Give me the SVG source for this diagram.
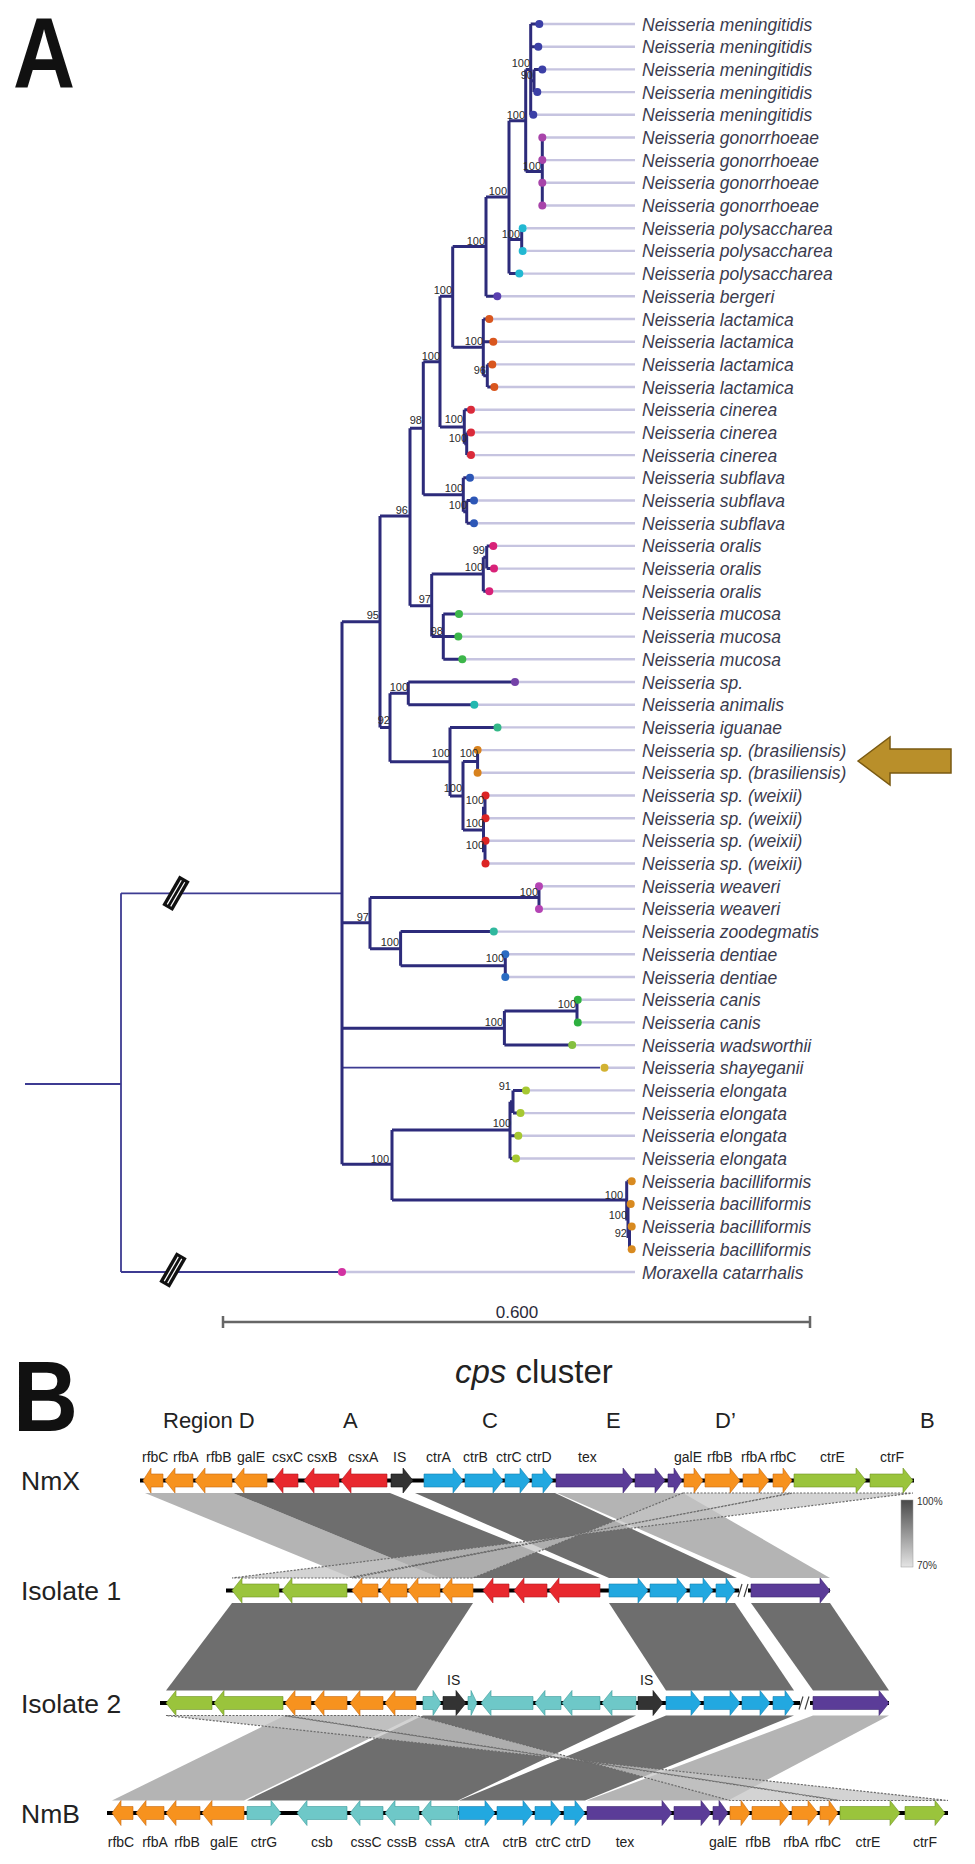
<svg xmlns="http://www.w3.org/2000/svg" width="975" height="1864" viewBox="0 0 975 1864">
<defs>
<style>
.br{fill:none;stroke:#2d2b7b;stroke-width:3;stroke-linejoin:miter}
.thin{fill:none;stroke:#3d3b92;stroke-width:1.8}
.ld{fill:none;stroke:#c6c4e0;stroke-width:2.4}
.tx{font-family:"Liberation Sans",Arial,sans-serif;font-style:italic;font-size:17.5px;fill:#3b3b4e}
.bs{font-family:"Liberation Sans",Arial,sans-serif;font-size:11px;fill:#2a2a2a;text-anchor:end}
.pl{font-family:"Liberation Sans",Arial,sans-serif;font-weight:bold;font-size:100px;fill:#111}
.gl{font-family:"Liberation Sans",Arial,sans-serif;font-size:14px;fill:#222}
.rl{font-family:"Liberation Sans",Arial,sans-serif;font-size:22px;fill:#222}
.tl{font-family:"Liberation Sans",Arial,sans-serif;font-size:26.5px;fill:#222}
.or{fill:#f7921e;stroke:#c86a10;stroke-width:0.6}
.rd{fill:#e8282e;stroke:#b01820;stroke-width:0.6}
.bk{fill:#333;stroke:#111;stroke-width:0.6}
.bl{fill:#22a8e0;stroke:#1580b0;stroke-width:0.6}
.pu{fill:#5b3c98;stroke:#3e2670;stroke-width:0.6}
.gr{fill:#9ac43c;stroke:#6e9422;stroke-width:0.6}
.te{fill:#6ec8c8;stroke:#3a9a9a;stroke-width:0.6}
.bb{stroke:#000;stroke-width:4}
.dk{fill:#6e6e6e}
.lt{fill:#b4b4b4}
.hx{fill:#c4c4c4;fill-opacity:0.75;stroke:#6a6a6a;stroke-width:1.2;stroke-dasharray:2 1.5}
</style>
<linearGradient id="cb" x1="0" y1="0" x2="0" y2="1">
<stop offset="0" stop-color="#4a4a4a"/>
<stop offset="1" stop-color="#e4e4e4"/>
</linearGradient>
<g id="brk">
<rect x="-6" y="-17" width="12" height="34" fill="#111"/>
<line x1="-2" y1="-14" x2="-2" y2="14" stroke="#fff" stroke-width="1.2"/>
<line x1="2" y1="-14" x2="2" y2="14" stroke="#fff" stroke-width="1.2"/>
</g>
</defs>
<rect width="975" height="1864" fill="#fff"/>

<text class="pl" transform="translate(13,88) scale(0.86,1)">A</text>
<text class="pl" transform="translate(13,1431) scale(0.9,1)">B</text>

<g id="leaders">
<path class="ld" d="M543,24H635M542,46.7H635M546,69.4H635M541,92.1H635M537,114.8H635M546,137.5H635M546,160.1H635M546,182.8H635M546,205.5H635M527,228.2H635M527,250.9H635M523,273.6H635M501,296.3H635M493,319H635M497,341.7H635M496,364.4H635M498,387H635M475,409.7H635M475,432.4H635M475,455.1H635M474,477.8H635M478,500.5H635M478,523.2H635M497,545.9H635M498,568.6H635M493,591.3H635M463,613.9H635M462,636.6H635M466,659.3H635M519,682H635M478,704.7H635M501,727.4H635M481,750.1H635M481,772.8H635M489,795.5H635M489,818.2H635M489,840.8H635M489,863.5H635M543,886.2H635M543,908.9H635M497,931.6H635M509,954.3H635M509,977H635M582,999.7H635M582,1022.4H635M576,1045.1H635M608,1067.7H635M530,1090.4H635M524,1113.1H635M522,1135.8H635M520,1158.5H635M346,1272H635"/>
</g>

<g id="tree">
<path class="thin" d="M25,1084H121M121,893.3V1272M121,893.3H342M121,1272H338M342,1067.7H600"/>
<path class="br" d="M342,621.7V1164.3
M342,621.7H380M380,516V727.4
M380,516H410M410,428.3V605.7
M410,428.3H423.3M423.3,361.7V494.7
M423.3,361.7H440M440,296.3V427
M440,296.3H452.7M452.7,246.6V347.3
M452.7,246.6H486M486,197V296.3M486,296.3H497.3
M486,197H509M509,120.8V273.6M509,273.6H519.3
M509,239.5H521.7M521.7,228.2V250.9M521.7,228.2H522.7M521.7,250.9H522.7
M509,120.8H525.7M525.7,69.4V171.5
M525.7,171.5H542.3M542.3,137.5V205.5
M525.7,69.4H530.7M530.7,24V114.8M530.7,24H539.3M530.7,46.7H538.3M530.7,80.7H534M534,69.4V92.1M534,69.4H542.3M534,92.1H537.3M530.7,114.8H533.3
M452.7,347.3H483.3M483.3,319V375.7M483.3,319H489.3M483.3,341.7H493.3M483.3,375.7H487.3M487.3,364.4V387M487.3,364.4H492.3M487.3,387H494.3
M440,427H464.3M464.3,409.7V443.7M464.3,409.7H471M464.3,443.7H466.7M466.7,432.4V455.1M466.7,432.4H471M466.7,455.1H471
M423.3,494.7H463.3M463.3,477.8V511.8M463.3,477.8H470M463.3,511.8H466.7M466.7,500.5V523.2M466.7,500.5H474M466.7,523.2H474
M410,605.7H431.7M431.7,574V636.6
M431.7,574H483.3M483.3,557.2V591.3M483.3,591.3H489.3M483.3,557.2H486.7M486.7,545.9V568.6M486.7,545.9H493.3M486.7,568.6H494
M431.7,636.6H443.3M443.3,613.9V659.3M443.3,613.9H459M443.3,636.6H458.3M443.3,659.3H462.3
M380,727.4H390M390,693.3V761.7
M390,693.3H408.3M408.3,682V704.7M408.3,682H515M408.3,704.7H474.3
M390,761.7H450M450,727.4V796M450,727.4H497.5
M450,796H463M463,761.5V829.9
M463,761.5H477.6M477.6,750.1V772.8
M463,829.9H483.5M483.5,806.8V852.2M483.5,806.8H485M485,795.5V818.2M485,795.5H485.5M485,818.2H485.5M483.5,852.2H485M485,840.8V863.5M485,840.8H485.5M485,863.5H485.5
M342,922.7H370M370,897.5V948.8
M370,897.5H539M539,886.2V908.9
M370,948.8H400.6M400.6,931.6V965.7M400.6,931.6H493.8
M400.6,965.7H505.3M505.3,954.3V977
M342,1028.3H504.4M504.4,1011V1045.1M504.4,1045.1H572.2
M504.4,1011H577M577,999.7V1022.4M577,999.7H577.8M577,1022.4H577.8
M342,1164.3H392M392,1130V1200
M392,1130H510M510,1101.8V1158.5M510,1135.8H518.3M510,1158.5H516M510,1101.8H513M513,1090.4V1113.1M513,1090.4H526M513,1113.1H520.5
M392,1200H626.7M626.7,1181.2V1220.5M626.7,1181.2H631.7M626.7,1220.5H628M628,1203.9V1237.9M628,1203.9H630.7M628,1237.9H629.5M629.5,1226.6V1249.3M629.5,1226.6H631.7M629.5,1249.3H631.7"/>
<use href="#brk" transform="translate(176,893.3) rotate(30)"/>
<use href="#brk" transform="translate(173,1270) rotate(30)"/>
</g>

<g id="tips">
<g fill="#3b3fa6">
<circle cx="539.3" cy="24" r="4"/><circle cx="538.3" cy="46.7" r="4"/><circle cx="542.3" cy="69.4" r="4"/><circle cx="537.3" cy="92.1" r="4"/><circle cx="533.3" cy="114.8" r="4"/>
</g>
<g fill="#a844aa"><circle cx="542.3" cy="137.5" r="4"/><circle cx="542.3" cy="160.1" r="4"/><circle cx="542.3" cy="182.8" r="4"/><circle cx="542.3" cy="205.5" r="4"/></g>
<g fill="#22b8d2"><circle cx="522.7" cy="228.2" r="4"/><circle cx="522.7" cy="250.9" r="4"/><circle cx="519.3" cy="273.6" r="4"/></g>
<circle cx="497.3" cy="296.3" r="4" fill="#5a40b0"/>
<g fill="#d9561e"><circle cx="489.3" cy="319" r="4"/><circle cx="493.3" cy="341.7" r="4"/><circle cx="492.3" cy="364.4" r="4"/><circle cx="494.3" cy="387" r="4"/></g>
<g fill="#da2a3a"><circle cx="471" cy="409.7" r="4"/><circle cx="471" cy="432.4" r="4"/><circle cx="471" cy="455.1" r="4"/></g>
<g fill="#2c56b6"><circle cx="470" cy="477.8" r="4"/><circle cx="474" cy="500.5" r="4"/><circle cx="474" cy="523.2" r="4"/></g>
<g fill="#d82278"><circle cx="493.3" cy="545.9" r="4"/><circle cx="494" cy="568.6" r="4"/><circle cx="489.3" cy="591.3" r="4"/></g>
<g fill="#3cb64a"><circle cx="459" cy="613.9" r="4"/><circle cx="458.3" cy="636.6" r="4"/><circle cx="462.3" cy="659.3" r="4"/></g>
<circle cx="515" cy="682" r="4" fill="#7442a8"/>
<circle cx="474.3" cy="704.7" r="4" fill="#22b8b0"/>
<circle cx="497.5" cy="727.4" r="4" fill="#34b888"/>
<g fill="#d8821e"><circle cx="477.6" cy="750.1" r="4"/><circle cx="477.6" cy="772.8" r="4"/></g>
<g fill="#dc2424"><circle cx="485.5" cy="795.5" r="4"/><circle cx="485.5" cy="818.2" r="4"/><circle cx="485.5" cy="840.8" r="4"/><circle cx="485.5" cy="863.5" r="4"/></g>
<g fill="#b444b4"><circle cx="539" cy="886.2" r="4"/><circle cx="539" cy="908.9" r="4"/></g>
<circle cx="493.8" cy="931.6" r="4" fill="#30b89e"/>
<g fill="#2a6cc2"><circle cx="505.3" cy="954.3" r="4"/><circle cx="505.3" cy="977" r="4"/></g>
<g fill="#2eb040"><circle cx="577.8" cy="999.7" r="4"/><circle cx="577.8" cy="1022.4" r="4"/></g>
<circle cx="572.2" cy="1045.1" r="4" fill="#84c040"/>
<circle cx="604.5" cy="1067.7" r="4" fill="#d2b232"/>
<g fill="#a6c832"><circle cx="526" cy="1090.4" r="4"/><circle cx="520.5" cy="1113.1" r="4"/><circle cx="518.3" cy="1135.8" r="4"/><circle cx="516" cy="1158.5" r="4"/></g>
<g fill="#d88a20"><circle cx="631.7" cy="1181.2" r="4"/><circle cx="630.7" cy="1203.9" r="4"/><circle cx="631.7" cy="1226.6" r="4"/><circle cx="631.7" cy="1249.3" r="4"/></g>
<circle cx="342" cy="1272" r="4" fill="#d232a2"/>
</g>

<g id="bootstrap">
<text class="bs" x="530" y="67">100</text>
<text class="bs" x="533" y="79">90</text>
<text class="bs" x="525" y="118.5">100</text>
<text class="bs" x="541" y="169.5">100</text>
<text class="bs" x="507" y="194.5">100</text>
<text class="bs" x="520" y="237.5">100</text>
<text class="bs" x="485" y="244.5">100</text>
<text class="bs" x="452" y="294">100</text>
<text class="bs" x="483" y="345">100</text>
<text class="bs" x="486" y="374">96</text>
<text class="bs" x="440" y="359.5">100</text>
<text class="bs" x="463" y="423">100</text>
<text class="bs" x="467" y="442">100</text>
<text class="bs" x="422" y="424">98</text>
<text class="bs" x="463" y="492">100</text>
<text class="bs" x="467" y="509">100</text>
<text class="bs" x="408" y="514">96</text>
<text class="bs" x="431" y="603">97</text>
<text class="bs" x="483" y="571">100</text>
<text class="bs" x="485" y="554">99</text>
<text class="bs" x="443" y="635">98</text>
<text class="bs" x="379" y="619">95</text>
<text class="bs" x="390" y="724">92</text>
<text class="bs" x="408" y="691">100</text>
<text class="bs" x="450" y="757">100</text>
<text class="bs" x="462" y="792">100</text>
<text class="bs" x="478" y="757">100</text>
<text class="bs" x="484" y="804">100</text>
<text class="bs" x="484" y="827">100</text>
<text class="bs" x="484" y="849">100</text>
<text class="bs" x="538" y="895.5">100</text>
<text class="bs" x="369" y="921">97</text>
<text class="bs" x="399" y="945.5">100</text>
<text class="bs" x="504" y="962">100</text>
<text class="bs" x="503" y="1025.5">100</text>
<text class="bs" x="576" y="1008">100</text>
<text class="bs" x="511" y="1090">91</text>
<text class="bs" x="511" y="1127">100</text>
<text class="bs" x="389" y="1162.5">100</text>
<text class="bs" x="623" y="1198.5">100</text>
<text class="bs" x="627" y="1219">100</text>
<text class="bs" x="627" y="1236.5">92</text>
</g>

<g id="labels">
<text class="tx" x="642" y="30.5">Neisseria meningitidis</text>
<text class="tx" x="642" y="53.2">Neisseria meningitidis</text>
<text class="tx" x="642" y="75.9">Neisseria meningitidis</text>
<text class="tx" x="642" y="98.6">Neisseria meningitidis</text>
<text class="tx" x="642" y="121.3">Neisseria meningitidis</text>
<text class="tx" x="642" y="144">Neisseria gonorrhoeae</text>
<text class="tx" x="642" y="166.6">Neisseria gonorrhoeae</text>
<text class="tx" x="642" y="189.3">Neisseria gonorrhoeae</text>
<text class="tx" x="642" y="212">Neisseria gonorrhoeae</text>
<text class="tx" x="642" y="234.7">Neisseria polysaccharea</text>
<text class="tx" x="642" y="257.4">Neisseria polysaccharea</text>
<text class="tx" x="642" y="280.1">Neisseria polysaccharea</text>
<text class="tx" x="642" y="302.8">Neisseria bergeri</text>
<text class="tx" x="642" y="325.5">Neisseria lactamica</text>
<text class="tx" x="642" y="348.2">Neisseria lactamica</text>
<text class="tx" x="642" y="370.9">Neisseria lactamica</text>
<text class="tx" x="642" y="393.5">Neisseria lactamica</text>
<text class="tx" x="642" y="416.2">Neisseria cinerea</text>
<text class="tx" x="642" y="438.9">Neisseria cinerea</text>
<text class="tx" x="642" y="461.6">Neisseria cinerea</text>
<text class="tx" x="642" y="484.3">Neisseria subflava</text>
<text class="tx" x="642" y="507">Neisseria subflava</text>
<text class="tx" x="642" y="529.7">Neisseria subflava</text>
<text class="tx" x="642" y="552.4">Neisseria oralis</text>
<text class="tx" x="642" y="575.1">Neisseria oralis</text>
<text class="tx" x="642" y="597.8">Neisseria oralis</text>
<text class="tx" x="642" y="620.4">Neisseria mucosa</text>
<text class="tx" x="642" y="643.1">Neisseria mucosa</text>
<text class="tx" x="642" y="665.8">Neisseria mucosa</text>
<text class="tx" x="642" y="688.5">Neisseria sp.</text>
<text class="tx" x="642" y="711.2">Neisseria animalis</text>
<text class="tx" x="642" y="733.9">Neisseria iguanae</text>
<text class="tx" x="642" y="756.6">Neisseria sp. (brasiliensis)</text>
<text class="tx" x="642" y="779.3">Neisseria sp. (brasiliensis)</text>
<text class="tx" x="642" y="802">Neisseria sp. (weixii)</text>
<text class="tx" x="642" y="824.7">Neisseria sp. (weixii)</text>
<text class="tx" x="642" y="847.3">Neisseria sp. (weixii)</text>
<text class="tx" x="642" y="870">Neisseria sp. (weixii)</text>
<text class="tx" x="642" y="892.7">Neisseria weaveri</text>
<text class="tx" x="642" y="915.4">Neisseria weaveri</text>
<text class="tx" x="642" y="938.1">Neisseria zoodegmatis</text>
<text class="tx" x="642" y="960.8">Neisseria dentiae</text>
<text class="tx" x="642" y="983.5">Neisseria dentiae</text>
<text class="tx" x="642" y="1006.2">Neisseria canis</text>
<text class="tx" x="642" y="1028.9">Neisseria canis</text>
<text class="tx" x="642" y="1051.6">Neisseria wadsworthii</text>
<text class="tx" x="642" y="1074.2">Neisseria shayeganii</text>
<text class="tx" x="642" y="1096.9">Neisseria elongata</text>
<text class="tx" x="642" y="1119.6">Neisseria elongata</text>
<text class="tx" x="642" y="1142.3">Neisseria elongata</text>
<text class="tx" x="642" y="1165">Neisseria elongata</text>
<text class="tx" x="642" y="1187.7">Neisseria bacilliformis</text>
<text class="tx" x="642" y="1210.4">Neisseria bacilliformis</text>
<text class="tx" x="642" y="1233.1">Neisseria bacilliformis</text>
<text class="tx" x="642" y="1255.8">Neisseria bacilliformis</text>
<text class="tx" x="642" y="1278.5">Moraxella catarrhalis</text>
</g>

<g id="highlight-arrow">
<polygon points="858,761 890,737 890,749 951,749 951,773 890,773 890,785" fill="#b98f2a" stroke="#7a5a12" stroke-width="1.5"/>
</g>

<g id="scale-bar">
<path d="M223,1322H810M223,1316V1328M810,1316V1328" stroke="#666" stroke-width="2.5" fill="none"/>
<text x="517" y="1318" font-family="Liberation Sans,Arial,sans-serif" font-size="17" fill="#2a2a3a" text-anchor="middle">0.600</text>
</g>

<g id="panelB-titles">
<text x="455" y="1383" font-family="Liberation Sans,Arial,sans-serif" font-size="33" fill="#222"><tspan font-style="italic">cps</tspan> cluster</text>
<text class="rl" x="163" y="1428">Region D</text>
<text class="rl" x="343" y="1428">A</text>
<text class="rl" x="482" y="1428">C</text>
<text class="rl" x="606" y="1428">E</text>
<text class="rl" x="715" y="1428">D’</text>
<text class="rl" x="920" y="1428">B</text>
<text class="tl" x="21" y="1490">NmX</text>
<text class="tl" x="21" y="1600">Isolate 1</text>
<text class="tl" x="21" y="1713">Isolate 2</text>
<text class="tl" x="21" y="1823">NmB</text>
</g>

<g id="nmx-labels" class="gl">
<text x="142" y="1462">rfbC</text><text x="173" y="1462">rfbA</text><text x="206" y="1462">rfbB</text><text x="237" y="1462">galE</text>
<text x="272" y="1462">csxC</text><text x="307" y="1462">csxB</text><text x="348" y="1462">csxA</text><text x="393" y="1462">IS</text>
<text x="426" y="1462">ctrA</text><text x="463" y="1462">ctrB</text><text x="496" y="1462">ctrC</text><text x="526" y="1462">ctrD</text>
<text x="578" y="1462">tex</text><text x="674" y="1462">galE</text><text x="707" y="1462">rfbB</text><text x="741" y="1462">rfbA</text><text x="770" y="1462">rfbC</text>
<text x="820" y="1462">ctrE</text><text x="880" y="1462">ctrF</text>
</g>

<g id="bands">
<polygon class="lt" points="145,1493 233,1493 440,1578 352,1578"/>
<polygon class="dk" points="233,1493 390,1493 600,1578 440,1578"/>
<polygon class="dk" points="415,1493 555,1493 737,1578 609,1578"/>
<polygon class="lt" points="557,1493 683,1493 830,1578 751,1578"/>
<polygon class="hx" points="683,1493 792,1493 352,1578 473,1578"/>
<polygon class="hx" points="793,1493 913,1493 232,1578 347,1578"/>
<polygon class="dk" points="232,1603 473,1603 416,1690.5 166,1690.5"/>
<polygon class="dk" points="609,1603 735,1603 794,1690.5 666,1690.5"/>
<polygon class="dk" points="751,1603 830,1603 889,1690.5 813,1690.5"/>
<polygon class="lt" points="285,1715.5 416,1715.5 244,1800.5 112,1800.5"/>
<polygon class="dk" points="423,1715.5 636,1715.5 458,1800.5 247,1800.5"/>
<polygon class="dk" points="666,1715.5 794,1715.5 585,1800.5 459,1800.5"/>
<polygon class="lt" points="813,1715.5 889,1715.5 728,1800.5 587,1800.5"/>
<polygon class="hx" points="166,1715.5 283,1715.5 840,1800.5 948,1800.5"/>
<polygon class="hx" points="285,1715.5 416,1715.5 730,1800.5 838,1800.5"/>
</g>

<g id="track-NmX">
<line class="bb" x1="140" y1="1480.5" x2="914" y2="1480.5"/>
<polygon class="or" points="163,1474 151,1474 151,1468 143,1480.5 151,1493 151,1487 163,1487"/>
<polygon class="or" points="193,1474 175,1474 175,1468 165,1480.5 175,1493 175,1487 193,1487"/>
<polygon class="or" points="232,1474 205,1474 205,1468 195,1480.5 205,1493 205,1487 232,1487"/>
<polygon class="or" points="267,1474 244,1474 244,1468 234,1480.5 244,1493 244,1487 267,1487"/>
<polygon class="rd" points="298,1474 283,1474 283,1468 273,1480.5 283,1493 283,1487 298,1487"/>
<polygon class="rd" points="339,1474 314,1474 314,1468 304,1480.5 314,1493 314,1487 339,1487"/>
<polygon class="rd" points="387,1474 351,1474 351,1468 341,1480.5 351,1493 351,1487 387,1487"/>
<polygon class="bk" points="391,1474 403,1474 403,1468 413,1480.5 403,1493 403,1487 391,1487"/>
<polygon class="bl" points="424,1474 453,1474 453,1468 463,1480.5 453,1493 453,1487 424,1487"/>
<polygon class="bl" points="465,1474 493,1474 493,1468 503,1480.5 493,1493 493,1487 465,1487"/>
<polygon class="bl" points="505,1474 520,1474 520,1468 530,1480.5 520,1493 520,1487 505,1487"/>
<polygon class="bl" points="532,1474 543,1474 543,1468 553,1480.5 543,1493 543,1487 532,1487"/>
<polygon class="pu" points="556,1474 623,1474 623,1468 633,1480.5 623,1493 623,1487 556,1487"/>
<polygon class="pu" points="635,1474 655,1474 655,1468 665,1480.5 655,1493 655,1487 635,1487"/>
<polygon class="pu" points="668,1474 674,1474 674,1468 682,1480.5 674,1493 674,1487 668,1487"/>
<polygon class="or" points="684,1474 694,1474 694,1468 703,1480.5 694,1493 694,1487 684,1487"/>
<polygon class="or" points="705,1474 730,1474 730,1468 740,1480.5 730,1493 730,1487 705,1487"/>
<polygon class="or" points="743,1474 759,1474 759,1468 769,1480.5 759,1493 759,1487 743,1487"/>
<polygon class="or" points="773,1474 783,1474 783,1468 792,1480.5 783,1493 783,1487 773,1487"/>
<polygon class="gr" points="794,1474 856,1474 856,1468 866,1480.5 856,1493 856,1487 794,1487"/>
<polygon class="gr" points="870,1474 903,1474 903,1468 913,1480.5 903,1493 903,1487 870,1487"/>
</g>

<g id="track-Isolate1">
<line class="bb" x1="226" y1="1590.5" x2="830" y2="1590.5"/>
<polygon class="gr" points="279,1584 242,1584 242,1578 232,1590.5 242,1603 242,1597 279,1597"/>
<polygon class="gr" points="347,1584 292,1584 292,1578 282,1590.5 292,1603 292,1597 347,1597"/>
<polygon class="or" points="378,1584 362,1584 362,1578 352,1590.5 362,1603 362,1597 378,1597"/>
<polygon class="or" points="407,1584 390,1584 390,1578 380,1590.5 390,1603 390,1597 407,1597"/>
<polygon class="or" points="440,1584 418,1584 418,1578 408,1590.5 418,1603 418,1597 440,1597"/>
<polygon class="or" points="473,1584 452,1584 452,1578 442,1590.5 452,1603 452,1597 473,1597"/>
<polygon class="rd" points="509,1584 493,1584 493,1578 483,1590.5 493,1603 493,1597 509,1597"/>
<polygon class="rd" points="547,1584 524,1584 524,1578 514,1590.5 524,1603 524,1597 547,1597"/>
<polygon class="rd" points="600,1584 559,1584 559,1578 549,1590.5 559,1603 559,1597 600,1597"/>
<polygon class="bl" points="609,1584 638,1584 638,1578 648,1590.5 638,1603 638,1597 609,1597"/>
<polygon class="bl" points="650,1584 677,1584 677,1578 687,1590.5 677,1603 677,1597 650,1597"/>
<polygon class="bl" points="690,1584 703,1584 703,1578 713,1590.5 703,1603 703,1597 690,1597"/>
<polygon class="bl" points="716,1584 726,1584 726,1578 735,1590.5 726,1603 726,1597 716,1597"/>
<rect x="739" y="1584" width="9" height="13" fill="#fff"/>
<path d="M738,1597L742,1584M744,1597L748,1584" stroke="#444" stroke-width="1.2"/>
<polygon class="pu" points="751,1584 820,1584 820,1578 830,1590.5 820,1603 820,1597 751,1597"/>
</g>

<g id="track-Isolate2">
<line class="bb" x1="160" y1="1703" x2="889" y2="1703"/>
<polygon class="gr" points="212,1696.5 176,1696.5 176,1690.5 166,1703 176,1715.5 176,1709.5 212,1709.5"/>
<polygon class="gr" points="283,1696.5 224,1696.5 224,1690.5 214,1703 224,1715.5 224,1709.5 283,1709.5"/>
<polygon class="or" points="311,1696.5 295,1696.5 295,1690.5 285,1703 295,1715.5 295,1709.5 311,1709.5"/>
<polygon class="or" points="347,1696.5 324,1696.5 324,1690.5 314,1703 324,1715.5 324,1709.5 347,1709.5"/>
<polygon class="or" points="383,1696.5 360,1696.5 360,1690.5 350,1703 360,1715.5 360,1709.5 383,1709.5"/>
<polygon class="or" points="416,1696.5 395,1696.5 395,1690.5 385,1703 395,1715.5 395,1709.5 416,1709.5"/>
<polygon class="te" points="423,1696.5 433,1696.5 433,1690.5 441,1703 433,1715.5 433,1709.5 423,1709.5"/>
<polygon class="bk" points="443,1696.5 456,1696.5 456,1690.5 466,1703 456,1715.5 456,1709.5 443,1709.5"/>
<polygon class="te" points="468,1696.5 471,1696.5 471,1690.5 477,1703 471,1715.5 471,1709.5 468,1709.5"/>
<polygon class="te" points="533,1696.5 491,1696.5 491,1690.5 481,1703 491,1715.5 491,1709.5 533,1709.5"/>
<polygon class="te" points="561,1696.5 545,1696.5 545,1690.5 535,1703 545,1715.5 545,1709.5 561,1709.5"/>
<polygon class="te" points="600,1696.5 572,1696.5 572,1690.5 562,1703 572,1715.5 572,1709.5 600,1709.5"/>
<polygon class="te" points="636,1696.5 612,1696.5 612,1690.5 602,1703 612,1715.5 612,1709.5 636,1709.5"/>
<polygon class="bk" points="638,1696.5 653,1696.5 653,1690.5 663,1703 653,1715.5 653,1709.5 638,1709.5"/>
<polygon class="bl" points="666,1696.5 691,1696.5 691,1690.5 701,1703 691,1715.5 691,1709.5 666,1709.5"/>
<polygon class="bl" points="704,1696.5 730,1696.5 730,1690.5 740,1703 730,1715.5 730,1709.5 704,1709.5"/>
<polygon class="bl" points="742,1696.5 760,1696.5 760,1690.5 770,1703 760,1715.5 760,1709.5 742,1709.5"/>
<polygon class="bl" points="773,1696.5 785,1696.5 785,1690.5 794,1703 785,1715.5 785,1709.5 773,1709.5"/>
<rect x="800" y="1696.5" width="10" height="13" fill="#fff"/>
<path d="M799,1709.5L803,1696.5M805,1709.5L809,1696.5" stroke="#444" stroke-width="1.2"/>
<polygon class="pu" points="813,1696.5 879,1696.5 879,1690.5 889,1703 879,1715.5 879,1709.5 813,1709.5"/>
<text class="gl" x="447" y="1685">IS</text>
<text class="gl" x="640" y="1685">IS</text>
</g>

<g id="track-NmB">
<line class="bb" x1="107" y1="1813" x2="948" y2="1813"/>
<polygon class="or" points="133,1806.5 121,1806.5 121,1800.5 112,1813 121,1825.5 121,1819.5 133,1819.5"/>
<polygon class="or" points="164,1806.5 146,1806.5 146,1800.5 136,1813 146,1825.5 146,1819.5 164,1819.5"/>
<polygon class="or" points="200,1806.5 176,1806.5 176,1800.5 166,1813 176,1825.5 176,1819.5 200,1819.5"/>
<polygon class="or" points="244,1806.5 212,1806.5 212,1800.5 202,1813 212,1825.5 212,1819.5 244,1819.5"/>
<polygon class="te" points="247,1806.5 271,1806.5 271,1800.5 281,1813 271,1825.5 271,1819.5 247,1819.5"/>
<polygon class="te" points="347,1806.5 307,1806.5 307,1800.5 297,1813 307,1825.5 307,1819.5 347,1819.5"/>
<polygon class="te" points="383,1806.5 360,1806.5 360,1800.5 350,1813 360,1825.5 360,1819.5 383,1819.5"/>
<polygon class="te" points="419,1806.5 395,1806.5 395,1800.5 385,1813 395,1825.5 395,1819.5 419,1819.5"/>
<polygon class="te" points="458,1806.5 431,1806.5 431,1800.5 421,1813 431,1825.5 431,1819.5 458,1819.5"/>
<polygon class="bl" points="459,1806.5 485,1806.5 485,1800.5 495,1813 485,1825.5 485,1819.5 459,1819.5"/>
<polygon class="bl" points="497,1806.5 523,1806.5 523,1800.5 533,1813 523,1825.5 523,1819.5 497,1819.5"/>
<polygon class="bl" points="535,1806.5 551,1806.5 551,1800.5 561,1813 551,1825.5 551,1819.5 535,1819.5"/>
<polygon class="bl" points="564,1806.5 575,1806.5 575,1800.5 585,1813 575,1825.5 575,1819.5 564,1819.5"/>
<polygon class="pu" points="587,1806.5 662,1806.5 662,1800.5 672,1813 662,1825.5 662,1819.5 587,1819.5"/>
<polygon class="pu" points="674,1806.5 701,1806.5 701,1800.5 711,1813 701,1825.5 701,1819.5 674,1819.5"/>
<polygon class="pu" points="713,1806.5 719,1806.5 719,1800.5 728,1813 719,1825.5 719,1819.5 713,1819.5"/>
<polygon class="or" points="730,1806.5 741,1806.5 741,1800.5 750,1813 741,1825.5 741,1819.5 730,1819.5"/>
<polygon class="or" points="752,1806.5 780,1806.5 780,1800.5 790,1813 780,1825.5 780,1819.5 752,1819.5"/>
<polygon class="or" points="792,1806.5 808,1806.5 808,1800.5 818,1813 808,1825.5 808,1819.5 792,1819.5"/>
<polygon class="or" points="820,1806.5 829,1806.5 829,1800.5 838,1813 829,1825.5 829,1819.5 820,1819.5"/>
<polygon class="gr" points="840,1806.5 890,1806.5 890,1800.5 900,1813 890,1825.5 890,1819.5 840,1819.5"/>
<polygon class="gr" points="905,1806.5 935,1806.5 935,1800.5 945,1813 935,1825.5 935,1819.5 905,1819.5"/>
</g>

<g id="nmb-labels" class="gl" text-anchor="middle">
<text x="121" y="1847">rfbC</text><text x="155" y="1847">rfbA</text><text x="187" y="1847">rfbB</text><text x="224" y="1847">galE</text>
<text x="264" y="1847">ctrG</text><text x="322" y="1847">csb</text><text x="366" y="1847">cssC</text><text x="402" y="1847">cssB</text><text x="440" y="1847">cssA</text>
<text x="477" y="1847">ctrA</text><text x="515" y="1847">ctrB</text><text x="548" y="1847">ctrC</text><text x="578" y="1847">ctrD</text><text x="625" y="1847">tex</text>
<text x="723" y="1847">galE</text><text x="758" y="1847">rfbB</text><text x="796" y="1847">rfbA</text><text x="828" y="1847">rfbC</text>
<text x="868" y="1847">ctrE</text><text x="925" y="1847">ctrF</text>
</g>

<g id="colorbar">
<rect x="901" y="1500" width="12" height="67" fill="url(#cb)" stroke="#999" stroke-width="0.5"/>
<text x="917" y="1505" font-family="Liberation Sans,Arial,sans-serif" font-size="10" fill="#333">100%</text>
<text x="917" y="1569" font-family="Liberation Sans,Arial,sans-serif" font-size="10" fill="#333">70%</text>
</g>
</svg>
